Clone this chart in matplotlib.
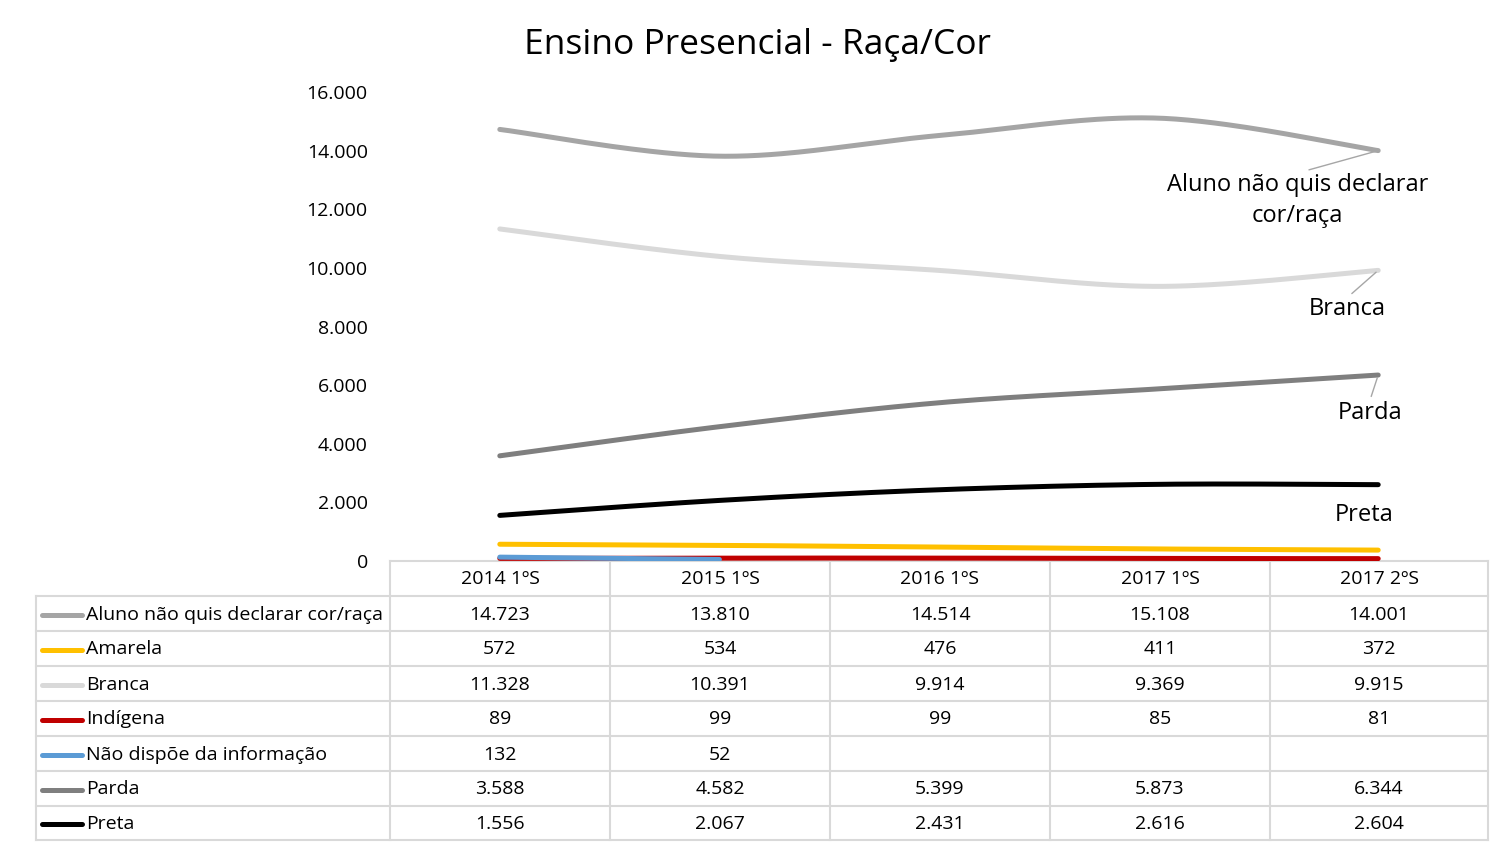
"""
Ensino Presencial - Raça/Cor : linha suavizada + tabela de dados (estilo Excel)
"""

import numpy as np
import matplotlib
matplotlib.use("Agg")
import matplotlib.pyplot as plt

plt.rcParams['font.family'] = ['Open Sans', 'DejaVu Sans']

# dados
periodos = ["2014 1ºS", "2015 1ºS", "2016 1ºS", "2017 1ºS", "2017 2ºS"]
series_nomes = [
    "Aluno não quis declarar cor/raça",
    "Amarela",
    "Branca",
    "Indígena",
    "Não dispõe da informação",
    "Parda",
    "Preta",
]
aluno_nao_quis = [14723, 13810, 14514, 15108, 14001]
amarela = [572, 534, 476, 411, 372]
branca = [11328, 10391, 9914, 9369, 9915]
indigena = [89, 99, 99, 85, 81]
nao_dispoe = [132, 52, None, None, None]
parda = [3588, 4582, 5399, 5873, 6344]
preta = [1556, 2067, 2431, 2616, 2604]

series_valores = [aluno_nao_quis, amarela, branca, indigena, nao_dispoe, parda, preta]
cores = ["#A5A5A5", "#FFC000", "#D9D9D9", "#C00000", "#5B9BD5", "#7F7F7F", "#000000"]

W, H = 1512, 850


def suavizar(xs, ys, n=40):
    """curva tipo Catmull-Rom (como a linha suavizada do Excel)"""
    xs = np.asarray(xs, float)
    ys = np.asarray(ys, float)
    pts = np.column_stack([xs, ys])
    if len(pts) < 3:
        return xs, ys
    out = []
    t = np.linspace(0, 1, n)[:, None]
    for i in range(len(pts) - 1):
        p0 = pts[i - 1] if i > 0 else pts[i]
        p1 = pts[i]
        p2 = pts[i + 1]
        p3 = pts[i + 2] if i + 2 < len(pts) else pts[i + 1]
        c1 = p1 + (p2 - p0) / 6
        c2 = p2 - (p3 - p1) / 6
        seg = ((1 - t) ** 3) * p1 + 3 * ((1 - t) ** 2) * t * c1 \
            + 3 * (1 - t) * t ** 2 * c2 + t ** 3 * p2
        out.append(seg if i == 0 else seg[1:])
    seg = np.vstack(out)
    return seg[:, 0], seg[:, 1]


def fmt(v):
    if v is None:
        return ""
    return f"{v:,}".replace(",", ".")


fig = plt.figure(figsize=(W / 100, H / 100), dpi=100)

# área do gráfico (pixels -> fração da figura)
x0, x1 = 390, 1488
y_top, y_zero = 92, 561
ax = fig.add_axes([x0 / W, 1 - y_zero / H, (x1 - x0) / W, (y_zero - y_top) / H])
ax.set_xlim(-0.5, len(periodos) - 0.5)
ax.set_ylim(0, 16000)

for nome, vals, cor in zip(series_nomes, series_valores, cores):
    xs = [i for i, v in enumerate(vals) if v is not None]
    ys = [v for v in vals if v is not None]
    sx, sy = suavizar(xs, ys)
    ax.plot(sx, sy, color=cor, lw=3.6, solid_capstyle='round', zorder=3)

ax.set_yticks(np.arange(0, 16001, 2000))
ax.set_yticklabels([fmt(int(v)) for v in np.arange(0, 16001, 2000)])
ax.tick_params(axis='y', length=0, labelsize=14, pad=16, colors='#000000')
ax.set_xticks([])
for s in ['top', 'right', 'left']:
    ax.spines[s].set_visible(False)
ax.spines['bottom'].set_color('#D9D9D9')
ax.spines['bottom'].set_linewidth(1.5)
ax.patch.set_alpha(0)

# rótulos das séries à direita
rotulos = [
    (0, "Aluno não quis declarar\ncor/raça", (-58, -36), True),
    (2, "Branca", (-22, -28), True),
    (5, "Parda", (-6, -27), True),
    (6, "Preta", (-10, -22), False),
]
for idx, texto, off, linha in rotulos:
    v = series_valores[idx][-1]
    props = dict(arrowstyle='-', color='#A6A6A6', lw=1,
                 shrinkA=1, shrinkB=2, relpos=(0.5, 1)) if linha else None
    ax.annotate(texto, xy=(len(periodos) - 1, v), xytext=off,
                textcoords='offset points', ha='center', va='center',
                fontsize=17, linespacing=1.4, arrowprops=props, zorder=4)

fig.text(757 / W, 1 - 45 / H, "Ensino Presencial - Raça/Cor",
         ha='center', va='center', fontsize=25.5)

# tabela de dados
tab = fig.add_axes([0, 0, 1, 1], zorder=-1)
tab.set_xlim(0, W)
tab.set_ylim(H, 0)
tab.axis('off')

grade = '#D9D9D9'
col_x = [390, 610, 830, 1050, 1270, 1488]
row_y = [561, 596, 631, 666, 701, 736, 771, 806, 840]

for cx in col_x:
    tab.plot([cx, cx], [row_y[0], row_y[-1]], color=grade, lw=1.5)
tab.plot([36, 36], [row_y[1], row_y[-1]], color=grade, lw=1.5)
for ry in row_y[1:]:
    tab.plot([36, 1488], [ry, ry], color=grade, lw=1.5)

centros = [(col_x[i] + col_x[i + 1]) / 2 for i in range(len(periodos))]
for cx, p in zip(centros, periodos):
    tab.text(cx, (row_y[0] + row_y[1]) / 2 + 1, p, ha='center', va='center', fontsize=14)

for r, (nome, vals, cor) in enumerate(zip(series_nomes, series_valores, cores)):
    cy = (row_y[r + 1] + row_y[r + 2]) / 2 + 1
    tab.plot([42, 82], [cy, cy], color=cor, lw=3.6, solid_capstyle='round')
    tab.text(86, cy, nome, ha='left', va='center', fontsize=14)
    for cx, v in zip(centros, vals):
        tab.text(cx, cy, fmt(v), ha='center', va='center', fontsize=14)

fig.savefig("out.png", dpi=100, facecolor='white')
